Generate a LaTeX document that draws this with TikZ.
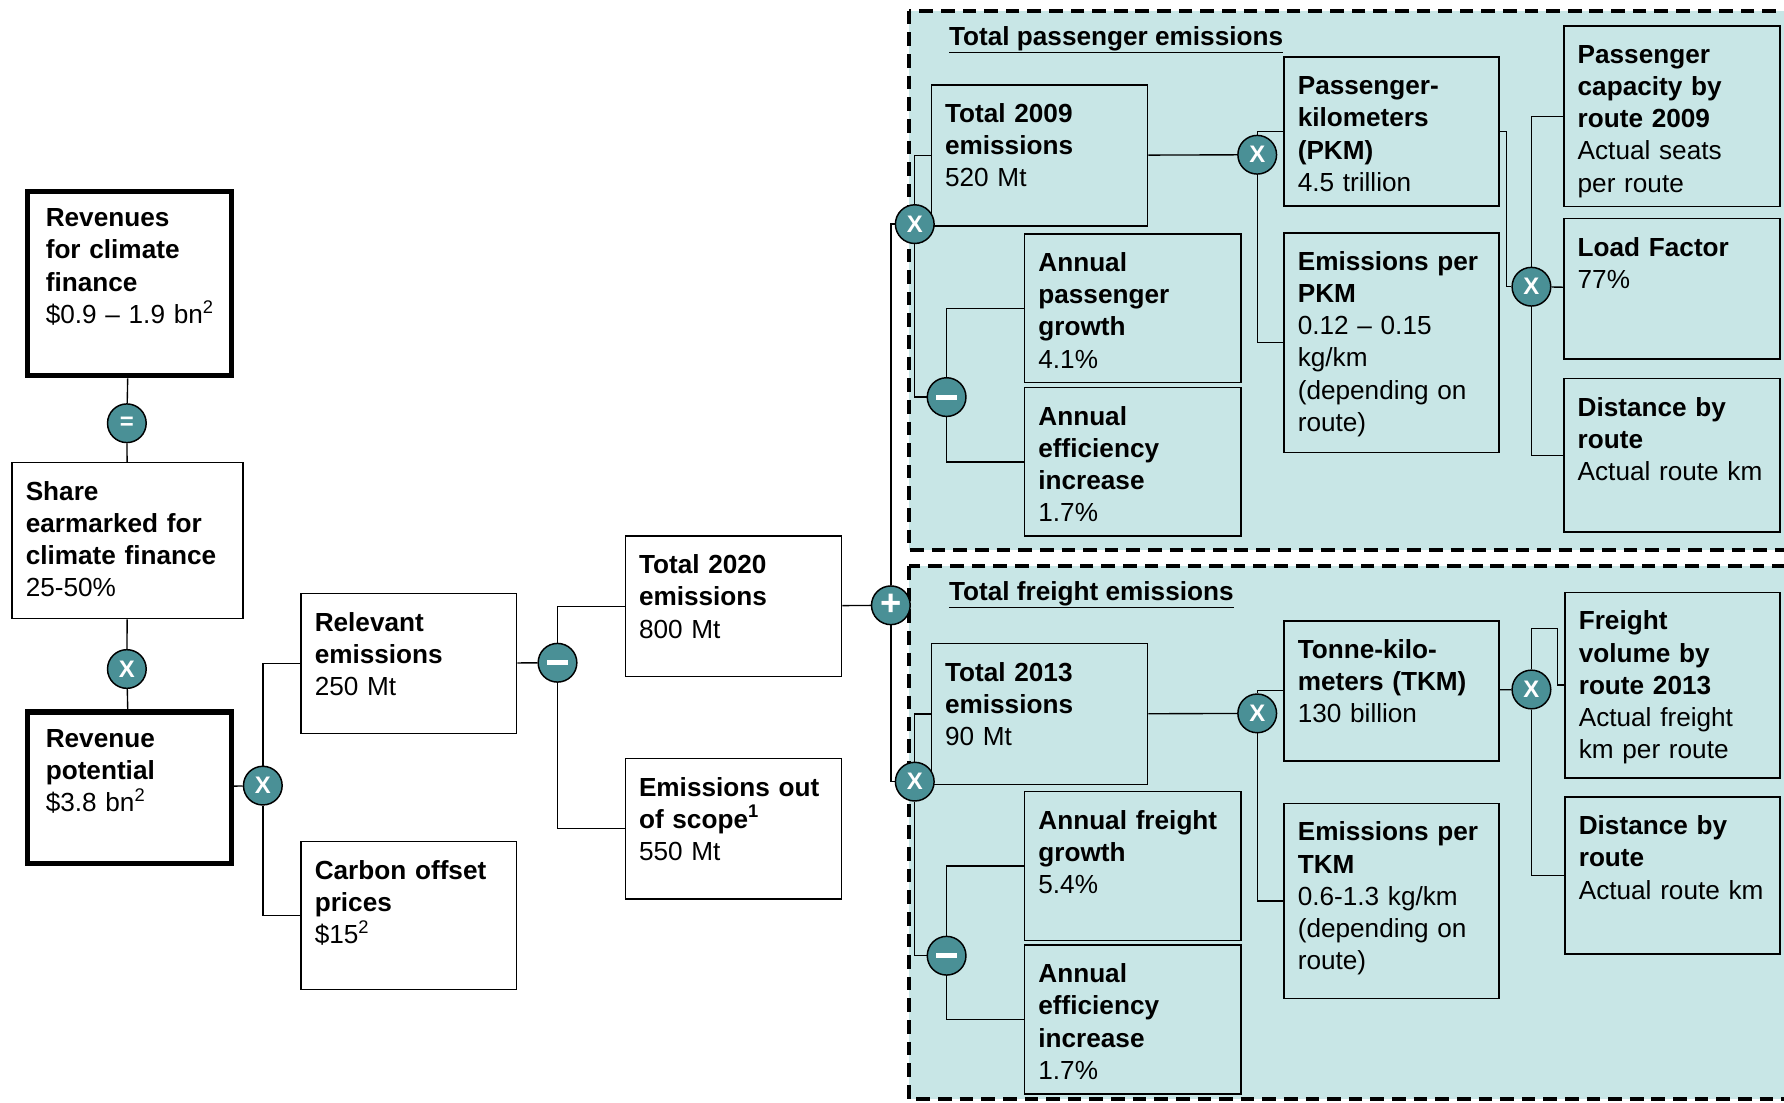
\documentclass[tikz,border=0pt]{standalone}
\usepackage{fontspec}
\setmainfont{Liberation Sans}
\usepackage{xcolor}
\definecolor{opteal}{RGB}{74,144,150}
\definecolor{panelfill}{RGB}{200,230,230}

\begin{document}
\begin{tikzpicture}[x=1pt, y=-1pt,
  font=\fontsize{23}{28.3}\selectfont,
  box/.style={draw, line width=1.3pt, anchor=north west, align=left, inner xsep=12pt, inner ysep=0pt, text height=33pt},
  bigbox/.style={box, line width=4.5pt, inner xsep=16pt, text height=31pt},
  op/.style={circle, draw, line width=1.3pt, fill=opteal, text=white, minimum size=34pt, inner sep=0pt, font=\fontsize{21}{21}\selectfont\bfseries},
  link/.style={line width=1.2pt},
  panel/.style={fill=panelfill, draw, line width=3.8pt, dash pattern=on 12pt off 7pt},
  paneltitle/.style={anchor=base west, inner sep=0pt, font=\fontsize{23}{28.3}\selectfont\bfseries}]

\useasboundingbox (0,0) rectangle (1568,969);

\begin{scope}
\clip (0,0) rectangle (1568,969);
\draw[panel] (799,9.5) rectangle (1580,483.5);
\draw[panel] (799,497.5) rectangle (1580,966);
\end{scope}

\node[paneltitle] (paxtitle) at (834,40) {\underline{Total passenger emissions}};
\node[paneltitle] (frttitle) at (834,527.5) {\underline{Total freight emissions}};

\node[bigbox, text width=147pt, text depth=131pt] (revclim) at (22,166) {\textbf{Revenues}\\\textbf{for climate}\\\textbf{finance}\\\mbox{\$0.9 – 1.9 bn\textsuperscript{2}}};
\node[box, text width=179pt, text depth=104pt] (share) at (10,406) {\textbf{Share}\\\textbf{earmarked for}\\\textbf{climate finance}\\25-50\%};
\node[bigbox, text width=147pt, text depth=102.5pt] (revpot) at (22,623.5) {\textbf{Revenue}\\\textbf{potential}\\\$3.8 bn\textsuperscript{2}};
\node[box, text width=165.5pt, text depth=90pt] (relem) at (264,521) {\textbf{Relevant}\\\textbf{emissions}\\250 Mt};
\node[box, text width=165.5pt, text depth=97pt] (offset) at (264,739) {\textbf{Carbon offset}\\\textbf{prices}\\\$15\textsuperscript{2}};
\node[box, text width=166pt, text depth=90.5pt] (tot2020) at (549,470.5) {\textbf{Total 2020}\\\textbf{emissions}\\800 Mt};
\node[box, text width=166pt, text depth=90.5pt] (outscope) at (549,666) {\textbf{Emissions out}\\\textbf{of scope\textsuperscript{1}}\\550 Mt};

\node[box, text width=166pt, text depth=91pt] (tot2009) at (818,74) {\textbf{Total 2009}\\\textbf{emissions}\\520 Mt};
\node[box, text width=166pt, text depth=97.5pt] (paxgrowth) at (900,205) {\textbf{Annual}\\\textbf{passenger}\\\textbf{growth}\\4.1\%};
\node[box, text width=166pt, text depth=97.5pt] (paxeff) at (900,340) {\textbf{Annual}\\\textbf{efficiency}\\\textbf{increase}\\1.7\%};
\node[box, text width=165pt, text depth=98pt] (pkm) at (1128,49.5) {\textbf{Passenger-}\\\textbf{kilometers}\\\textbf{(PKM)}\\4.5 trillion};
\node[box, text width=165pt, text depth=160pt] (perpkm) at (1128,204) {\textbf{Emissions per}\\\textbf{PKM}\\0.12 – 0.15\\kg/km\\(depending on\\route)};
\node[box, text width=166pt, text depth=126pt] (seats) at (1374,22) {\textbf{Passenger}\\\textbf{capacity by}\\\textbf{route 2009}\\Actual seats\\per route};
\node[box, text width=166pt, text depth=90.5pt] (loadf) at (1374,191.5) {\textbf{Load Factor}\\77\%};
\node[box, text width=166pt, text depth=102pt] (paxdist) at (1374,332) {\textbf{Distance by}\\\textbf{route}\\Actual route km};

\node[box, text width=166pt, text depth=91pt] (tot2013) at (818,565) {\textbf{Total 2013}\\\textbf{emissions}\\90 Mt};
\node[box, text width=166pt, text depth=98pt] (frtgrowth) at (900,695) {\textbf{Annual freight}\\\textbf{growth}\\5.4\%};
\node[box, text width=166pt, text depth=98pt] (frteff) at (900,830) {\textbf{Annual}\\\textbf{efficiency}\\\textbf{increase}\\1.7\%};
\node[box, text width=165pt, text depth=90pt] (tkm) at (1128,545) {\textbf{Tonne-kilo-}\\\textbf{meters (TKM)}\\130 billion};
\node[box, text width=165pt, text depth=138.5pt] (pertkm) at (1128,705.5) {\textbf{Emissions per}\\\textbf{TKM}\\0.6-1.3 kg/km\\(depending on\\route)};
\node[box, text width=165pt, text depth=130pt] (frtvol) at (1375,520) {\textbf{Freight}\\\textbf{volume by}\\\textbf{route 2013}\\Actual freight\\km per route};
\node[box, text width=165pt, text depth=105pt] (frtdist) at (1375,700) {\textbf{Distance by}\\\textbf{route}\\Actual route km};

\node[op] (eqop) at (111.5,372) {=};
\node[op] (xshare) at (111.5,588) {X};
\node[op] (xrev) at (231,690.5) {X};
\node[op] (minrel) at (490,582.5) {\rule{18pt}{4.5pt}};
\node[op] (plustot) at (783,532) {\fontsize{32}{32}\selectfont +};
\node[op] (xpax) at (804,197) {X};
\node[op] (minpax) at (832,349) {\rule{18pt}{4.5pt}};
\node[op] (xpkm) at (1105,136) {X};
\node[op] (xseat) at (1346,252) {X};
\node[op] (xfrt) at (804,687) {X};
\node[op] (minfrt) at (832,840) {\rule{18pt}{4.5pt}};
\node[op] (xtkm) at (1105,627) {X};
\node[op] (xvol) at (1346,606) {X};

\draw[link] (revclim) -- (eqop);
\draw[link] (eqop) -- (share);
\draw[link] (share) -- (xshare);
\draw[link] (xshare) -- (revpot);
\draw[link] (revpot) -- (xrev);
\draw[link] (relem.west) -| (xrev.north);
\draw[link] (xrev.south) |- (offset.west);
\draw[link] (relem) -- (minrel);
\draw[link] (tot2020.west) -| (minrel.north);
\draw[link] (minrel.south) |- (outscope.west);
\draw[link] (tot2020) -- (plustot);
\draw[link] (xpax.west) -| (plustot.north);
\draw[link] (plustot.south) |- (xfrt.west);

\draw[link] (tot2009.west) -| (xpax.north);
\draw[link] (xpax.south) |- (minpax.west);
\draw[link] (paxgrowth.west) -| (minpax.north);
\draw[link] (minpax.south) |- (paxeff.west);
\draw[link] (tot2009) -- (xpkm);
\draw[link] (pkm.west) -| (xpkm.north);
\draw[link] (xpkm.south) |- (perpkm.west);
\draw[link] (pkm.east) -- ++(6,0) |- (xseat.west);
\draw[link] (seats.west) -| (xseat.north);
\draw[link] (xseat) -- (loadf);
\draw[link] (xseat.south) |- (paxdist.west);

\draw[link] (tot2013.west) -| (xfrt.north);
\draw[link] (xfrt.south) |- (minfrt.west);
\draw[link] (frtgrowth.west) -| (minfrt.north);
\draw[link] (minfrt.south) |- (frteff.west);
\draw[link] (tot2013) -- (xtkm);
\draw[link] (tkm.west) -| (xtkm.north);
\draw[link] (xtkm.south) |- (pertkm.west);
\draw[link] (tkm) -- (xvol);
\draw[link] (xvol.north) |- ++(23,-36) |- (frtvol.west);
\draw[link] (xvol.south) |- (frtdist.west);

\end{tikzpicture}
\end{document}
